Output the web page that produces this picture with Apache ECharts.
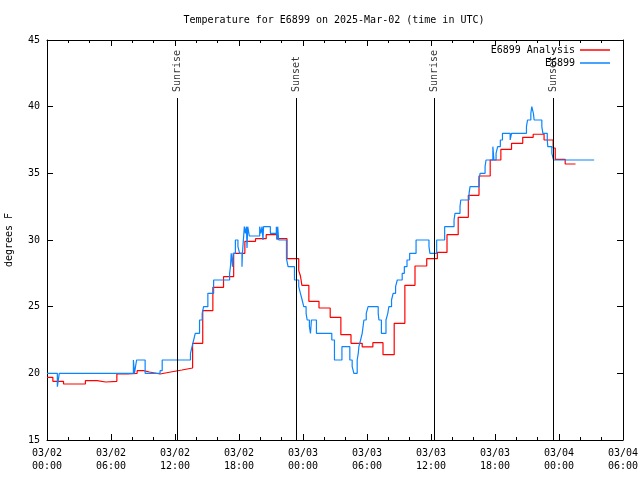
<!DOCTYPE html>
<html>
<head>
<meta charset="utf-8">
<script src="https://cdn.jsdelivr.net/npm/echarts@6/dist/echarts.min.js"></script>
<style>html,body{margin:0;padding:0;background:#fff}#c{width:640px;height:480px}</style>
</head>
<body>
<div id="c"></div>
<script>
// hours since 2025-03-02 00:00 UTC
const analysisTime = [0, 0.55, 1.55, 3.6, 4.7, 5.5, 6.55, 7.55, 8.45, 9.05, 9.6, 10.6, 11.6, 12.65, 13.65, 14.6, 15.55, 16.55, 17.5, 18.55, 19.55, 20.55, 21.55, 22.5, 23.6, 23.76, 23.9, 24.55, 25.5, 26.55, 27.55, 28.5, 29.55, 30.55, 31.5, 32.55, 33.55, 34.5, 35.6, 36.6, 37.5, 38.55, 39.5, 40.5, 41.55, 42.55, 43.55, 44.6, 45.58, 46.6, 47.45, 47.65, 48.58, 49.55];
const analysisTemp = [19.7, 19.4, 19.2, 19.45, 19.35, 19.4, 19.95, 20.0, 20.2, 20.1, 19.95, 20.1, 20.25, 20.4, 22.25, 24.7, 26.45, 27.25, 29.0, 29.9, 30.1, 30.4, 30.1, 28.6, 27.7, 27.3, 26.6, 25.4, 24.9, 24.2, 22.9, 22.25, 21.98, 22.3, 21.4, 23.75, 26.6, 28.05, 28.6, 29.07, 30.4, 31.7, 33.35, 34.8, 36.0, 36.8, 37.25, 37.7, 37.93, 37.5, 36.9, 36.05, 35.7, 35.7];

const obsTime = [0, 0.97, 1.15, 8.1, 8.2, 8.3, 8.4, 9.2, 10.6, 10.8, 13.45, 13.6, 13.75, 13.9, 14.3, 14.55, 14.68, 15.08, 15.62, 17.12, 17.2, 17.27, 17.4, 17.45, 17.66, 17.9, 18.06, 18.28, 18.32, 18.5, 18.6, 18.7, 18.75, 18.82, 18.97, 19.94, 20.05, 20.16, 20.25, 20.3, 20.94, 21.5, 21.57, 21.63, 21.72, 22.45, 22.6, 23.2, 23.6, 23.76, 23.92, 24.07, 24.29, 24.39, 24.6, 24.7, 24.79, 25.26, 26.7, 26.95, 27.65, 28.39, 28.61, 28.77, 29.08, 29.18, 29.24, 29.4, 29.55, 29.71, 29.93, 30.1, 31.05, 31.12, 31.35, 31.78, 31.95, 32.05, 32.3, 32.45, 32.68, 32.84, 33.3, 33.5, 33.75, 34.0, 34.6, 35.81, 35.9, 36.53, 37.28, 38.16, 38.25, 38.72, 38.79, 39.57, 39.66, 40.51, 40.6, 41.07, 41.16, 41.8, 41.9, 42.1, 42.25, 42.5, 42.7, 43.42, 43.55, 44.95, 45.05, 45.36, 45.45, 45.6, 45.67, 46.39, 46.49, 46.9, 46.95, 47.33, 47.49, 51.3];
const obsTemp = [20.0, 19.0, 20.0, 21.0, 20.0, 20.5, 21.0, 20.0, 20.2, 21.0, 21.5, 22.0, 22.5, 23.0, 24.0, 24.5, 25.0, 26.0, 27.0, 27.5, 28.0, 29.0, 28.0, 29.0, 30.0, 29.5, 29.0, 28.0, 29.0, 31.0, 30.5, 31.0, 29.4, 31.0, 30.3, 31.0, 30.5, 31.0, 30.0, 31.0, 30.5, 31.0, 30.0, 31.0, 30.0, 28.6, 28.0, 27.0, 26.5, 26.0, 25.5, 25.0, 24.5, 24.0, 23.5, 23.0, 24.0, 23.0, 22.5, 21.0, 22.0, 21.0, 20.5, 20.0, 21.0, 21.5, 22.0, 22.5, 23.0, 24.0, 24.5, 25.0, 24.5, 24.0, 23.0, 24.0, 24.5, 25.0, 25.5, 26.0, 26.5, 27.0, 27.5, 28.0, 28.5, 29.0, 30.0, 29.5, 29.0, 30.0, 31.0, 31.5, 32.0, 32.5, 33.0, 33.5, 34.0, 34.5, 35.0, 35.5, 36.0, 37.0, 36.0, 36.5, 37.0, 37.5, 38.0, 37.5, 38.0, 38.5, 39.0, 39.5, 40.0, 39.5, 39.0, 38.5, 38.0, 37.5, 37.0, 36.5, 36.0, 36.0];

const sunTime = [12.24, 23.41, 36.28, 47.46];
const sunLabel = ['Sunrise', 'Sunset', 'Sunrise', 'Sunset'];
const sunLineTop = 40.65;

const xTickLabels = ['03/02\n00:00', '03/02\n06:00', '03/02\n12:00', '03/02\n18:00', '03/03\n00:00', '03/03\n06:00', '03/03\n12:00', '03/03\n18:00', '03/04\n00:00', '03/04\n06:00'];

const seriesNames = ['E6899 Analysis', 'E6899'];
const titleText = 'Temperature for E6899 on 2025-Mar-02 (time in UTC)';
const yName = 'degrees F';

const FONT = 'DejaVu Sans Mono';
const txt = { fontFamily: FONT, fontSize: 10, color: '#000' };

const analysisData = analysisTime.map((t, i) => [t, analysisTemp[i]]);
const obsData = obsTime.map((t, i) => [t, obsTemp[i]]);
const sunData = sunTime.map((t, i) => ({ value: [t, sunLineTop], name: sunLabel[i] }));

const markData = sunTime.map(t => [{ coord: [t, 15] }, { coord: [t, sunLineTop] }]);

const baseX = {
  type: 'value', min: 0, max: 54, interval: 6,
  axisLine: { show: true, onZero: false, lineStyle: { color: '#000', width: 1 } },
  axisTick: { show: true, inside: true, length: 6, lineStyle: { color: '#000' } },
  minorTick: { show: true, splitNumber: 3, length: 3, lineStyle: { color: '#000' } },
  splitLine: { show: false }
};
const baseY = {
  type: 'value', min: 15, max: 45, interval: 5,
  axisLine: { show: true, onZero: false, lineStyle: { color: '#000', width: 1 } },
  axisTick: { show: true, inside: true, length: 6, lineStyle: { color: '#000' } },
  splitLine: { show: false }
};

const chart = echarts.init(document.getElementById('c'), null, { renderer: 'canvas' });
chart.setOption({
  animation: false,
  backgroundColor: '#fff',
  title: { text: titleText, left: 329, textAlign: 'center', top: 10, textStyle: Object.assign({ fontWeight: 'normal' }, txt) },
  grid: { left: 47, right: 17, top: 40, bottom: 40, containLabel: false, outerBoundsMode: 'none' },
  legend: [
    { data: [seriesNames[0]], right: 25, top: 40, orient: 'vertical', align: 'right', icon: 'rect', itemWidth: 30, itemHeight: 1.5, textStyle: txt, selectedMode: false },
    { data: [seriesNames[1]], right: 25, top: 53, orient: 'vertical', align: 'right', icon: 'rect', itemWidth: 30, itemHeight: 1.5, textStyle: txt, selectedMode: false }
  ],
  xAxis: [
    Object.assign({}, baseX, { position: 'bottom',
      axisLabel: Object.assign({ margin: 7, lineHeight: 13, formatter: v => xTickLabels[Math.round(v / 6)] }, txt) }),
    Object.assign({}, baseX, { position: 'top', axisLabel: { show: false } })
  ],
  yAxis: [
    Object.assign({}, baseY, { position: 'left', name: yName, nameLocation: 'middle', nameRotate: 90, nameGap: 33,
      nameTextStyle: txt, axisLabel: Object.assign({ margin: 7 }, txt) }),
    Object.assign({}, baseY, { position: 'right', axisLabel: { show: false } })
  ],
  series: [
    { name: seriesNames[0], type: 'line', step: 'end', data: analysisData, showSymbol: false, symbol: 'none',
      lineStyle: { color: '#ff0000', width: 1.2 }, itemStyle: { color: '#ff0000' },
      markLine: { silent: true, symbol: ['none', 'none'], animation: false, label: { show: false },
        lineStyle: { color: '#000', width: 1, type: 'solid' }, data: markData } },
    { name: seriesNames[1], type: 'line', step: 'end', data: obsData, showSymbol: false, symbol: 'none',
      lineStyle: { color: '#0a84ff', width: 1.2 }, itemStyle: { color: '#0a84ff' } },
    { name: 'sun', type: 'scatter', data: sunData, symbolSize: 0, silent: true, z: 5,
      itemStyle: { color: 'rgba(0,0,0,0)' },
      label: { show: true, formatter: p => p.name, position: 'top', distance: 6, rotate: 90,
        align: 'left', verticalAlign: 'middle', fontFamily: FONT, fontSize: 10, color: '#000' } }
  ]
});
</script>
</body>
</html>
